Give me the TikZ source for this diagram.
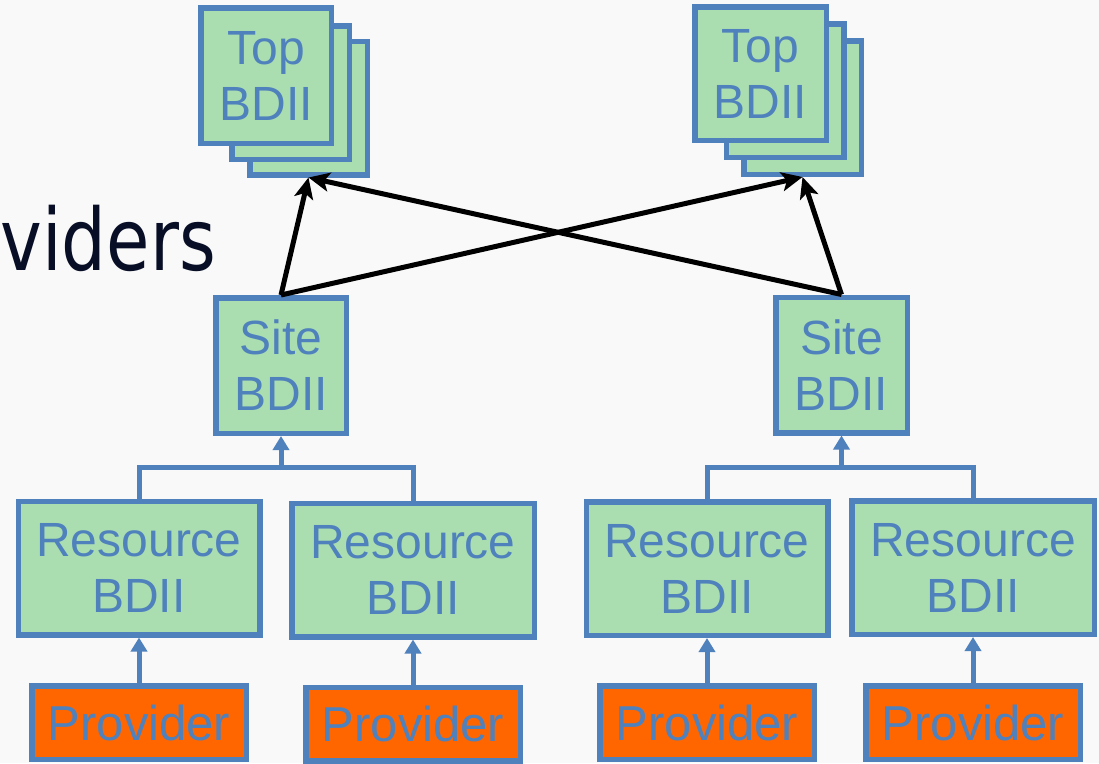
\documentclass[tikz,border=0pt]{standalone}
\usepackage{fontspec}
\setmainfont{Liberation Sans}
\newfontfamily\titlefont{DejaVu Sans}
\usetikzlibrary{arrows.meta}

\definecolor{boxblue}{RGB}{79,129,189}
\definecolor{boxgreen}{RGB}{170,221,176}
\definecolor{provorange}{RGB}{255,102,0}
\definecolor{titleink}{RGB}{8,14,38}
\definecolor{slidebg}{RGB}{249,249,249}

\begin{document}
\begin{tikzpicture}[x=1pt,y=-1pt,
  bdii/.style={draw=boxblue, fill=boxgreen, line width=5.5pt, text=boxblue,
    align=center, inner sep=0pt, font=\fontsize{48}{56}\selectfont},
  provbox/.style={draw=boxblue, fill=provorange, line width=5.5pt, text=boxblue,
    inner sep=0pt, minimum width=214.5pt, minimum height=73.5pt,
    font=\fontsize{49}{56}\selectfont},
  topbox/.style={bdii, minimum width=117.5pt, minimum height=133.5pt},
  sitebox/.style={bdii, minimum width=130.5pt, minimum height=135.5pt},
  resbox/.style={bdii, minimum width=241.5pt, minimum height=133.5pt},
  feed/.style={draw=boxblue, line width=5pt},
  feedarrow/.style={feed, -{Triangle[width=16pt,length=14pt]}},
  query/.style={draw=black, line width=5pt, -{Stealth[length=21pt,width=19pt,inset=5pt]}},
]
% page and slide background
\fill[slidebg] (0,0) rectangle (1099,763);
\useasboundingbox (0,0) rectangle (1099,763);

% remains of the slide title
\node[anchor=base east, text=titleink, inner sep=0pt,
  font=\titlefont\fontsize{86}{100}\selectfont] (title) at (216,270)
  {\scalebox{0.82}[1]{viders}};

% top-level BDII stacks (back to front)
\node[topbox] (TL3) at (308.5,108) {};
\node[topbox] (TL2) at (290.5,92.5) {};
\node[topbox, minimum width=130.5pt, minimum height=135.5pt] (TL1) at (266,75.5) {Top\\BDII};

\node[topbox] (TR3) at (802.5,107.5) {};
\node[topbox] (TR2) at (785,90.5) {};
\node[topbox, minimum width=131.5pt] (TR1) at (760.5,73.5) {Top\\BDII};

% site BDIIs
\node[sitebox] (SL) at (281,365.5) {Site\\BDII};
\node[sitebox, minimum width=131.5pt] (SR) at (841.5,365) {Site\\BDII};

% resource BDIIs
\node[resbox] (R1) at (139,568) {Resource\\BDII};
\node[resbox, minimum width=242.5pt] (R2) at (413,570) {Resource\\BDII};
\node[resbox] (R3) at (707,568.5) {Resource\\BDII};
\node[resbox, minimum width=242.5pt] (R4) at (973,567.5) {Resource\\BDII};

% information providers
\node[provbox] (P1) at (139,722.5) {Provider};
\node[provbox] (P2) at (413,724) {Provider};
\node[provbox] (P3) at (707,722.5) {Provider};
\node[provbox] (P4) at (973,722.5) {Provider};

% junctions of the resource-to-site feeds
\coordinate (jL) at (281,467);
\coordinate (jR) at (841.5,467);

% providers feed resource BDIIs
\draw[feedarrow] (P1.north) -- (R1.south);
\draw[feedarrow] (P2.north) -- (R2.south);
\draw[feedarrow] (P3.north) -- (R3.south);
\draw[feedarrow] (P4.north) -- (R4.south);

% resource BDIIs feed site BDIIs
\draw[feed] (R1.north) |- (jL) -| (R2.north);
\draw[feedarrow] (jL) -- (SL.south);
\draw[feed] (R3.north) |- (jR) -| (R4.north);
\draw[feedarrow] (jR) -- (SR.south);

% site BDIIs are queried by every top-level BDII
\draw[query] (SL.north) -- (TL3.south);
\draw[query] (SL.north) -- (TR3.south);
\draw[query] (SR.north) -- (TR3.south);
\draw[query] (SR.north) -- (TL3.south);
\end{tikzpicture}
\end{document}
